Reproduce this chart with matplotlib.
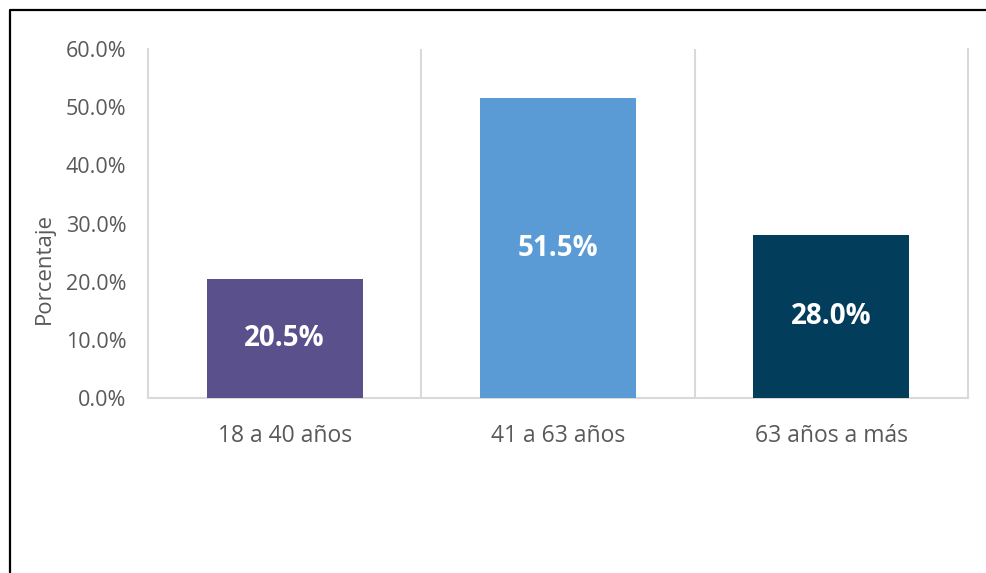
import matplotlib.pyplot as plt
from matplotlib.lines import Line2D
from matplotlib.ticker import FuncFormatter

# Distribución por grupo de edad
categorias = ['18 a 40 años', '41 a 63 años', '63 años a más']
porcentajes = [20.5, 51.5, 28.0]
colores = ['#5A508C', '#5B9BD5', '#023E5C']
yticks = [0, 10, 20, 30, 40, 50, 60]

plt.rcParams['font.family'] = ['Open Sans', 'DejaVu Sans']

W, H = 986, 573
fig = plt.figure(figsize=(W / 100, H / 100), dpi=100)
fig.patch.set_facecolor('white')

ax = fig.add_axes([148 / W, 1 - 398 / H, (968 - 148) / W, (398 - 49) / H])

x = range(len(categorias))
bars = ax.bar(x, porcentajes, width=0.57, color=colores, zorder=3)

for b, v in zip(bars, porcentajes):
    ax.text(b.get_x() + b.get_width() / 2, v / 2, f'{v:.1f}%',
            ha='center', va='center', color='white', fontsize=20,
            fontweight='bold', zorder=4)

ax.set_xlim(-0.5, len(categorias) - 0.5)
ax.set_ylim(0, 60)
ax.set_yticks(yticks)
ax.yaxis.set_major_formatter(FuncFormatter(lambda v, _: f'{v:.1f}%'))
ax.set_xticks(list(x))
ax.set_xticklabels(categorias)

# separadores verticales entre categorías
for sep in [0.5, 1.5]:
    ax.axvline(sep, color='#D9D9D9', lw=1.5, zorder=1)

for side in ['left', 'right', 'bottom']:
    ax.spines[side].set_color('#D9D9D9')
    ax.spines[side].set_linewidth(1.5)
ax.spines['top'].set_visible(False)

ax.tick_params(axis='both', length=0, colors='#595959')
ax.tick_params(axis='y', pad=15.5, labelsize=15.5)
ax.tick_params(axis='x', pad=19, labelsize=16.5)

ax.set_ylabel('Porcentaje', fontsize=16, color='#595959')
ax.yaxis.set_label_coords(-0.1134, 0.372)

# marco exterior (izquierda y arriba)
fx, fy = 10 / W, 1 - 10 / H
fig.add_artist(Line2D([fx, fx, 1.0], [0.0, fy, fy], transform=fig.transFigure,
                      color='black', lw=1.6))

fig.savefig('out.png', dpi=100, facecolor='white')
